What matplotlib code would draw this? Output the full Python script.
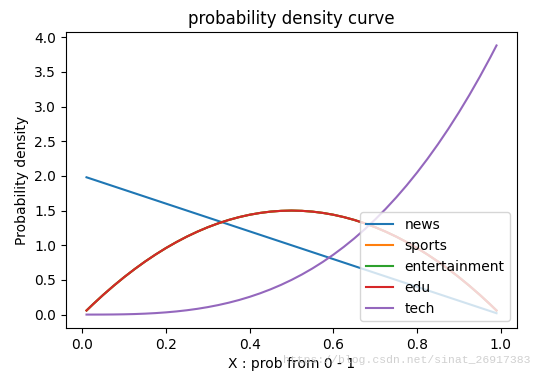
import matplotlib
matplotlib.use('Agg')
import matplotlib.pyplot as plt

# x positions
x = [0.01, 0.025, 0.05, 0.075, 0.10, 0.125, 0.15, 0.175, 0.20, 0.225, 0.25,
     0.275, 0.30, 0.325, 0.35, 0.375, 0.40, 0.425, 0.45, 0.475, 0.50,
     0.525, 0.55, 0.575, 0.60, 0.625, 0.65, 0.675, 0.70, 0.725, 0.75,
     0.775, 0.80, 0.825, 0.85, 0.875, 0.90, 0.925, 0.95, 0.975, 0.99]

news = [1.98, 1.95, 1.90, 1.85, 1.80, 1.75, 1.70, 1.65, 1.60, 1.55, 1.50,
        1.45, 1.40, 1.35, 1.30, 1.25, 1.20, 1.15, 1.10, 1.05, 1.00,
        0.95, 0.90, 0.85, 0.80, 0.75, 0.70, 0.65, 0.60, 0.55, 0.50,
        0.45, 0.40, 0.35, 0.30, 0.25, 0.20, 0.15, 0.10, 0.05, 0.02]
mid = [0.059, 0.146, 0.285, 0.416, 0.54, 0.656, 0.765, 0.866, 0.96, 1.046, 1.125,
       1.196, 1.26, 1.316, 1.365, 1.406, 1.44, 1.466, 1.485, 1.496, 1.50,
       1.496, 1.485, 1.466, 1.44, 1.406, 1.365, 1.316, 1.26, 1.196, 1.125,
       1.046, 0.96, 0.866, 0.765, 0.656, 0.54, 0.416, 0.285, 0.146, 0.059]
sports = mid
entertainment = mid
edu = mid
tech = [0.0, 0.0001, 0.0005, 0.0017, 0.004, 0.0078, 0.0135, 0.0214, 0.032, 0.0456, 0.0625,
        0.0832, 0.108, 0.1373, 0.1715, 0.2109, 0.256, 0.3071, 0.3645, 0.4287, 0.50,
        0.5788, 0.6655, 0.7604, 0.864, 0.9766, 1.0985, 1.2302, 1.372, 1.5243, 1.6875,
        1.8619, 2.048, 2.2461, 2.4565, 2.6797, 2.916, 3.1658, 3.4295, 3.7074, 3.8812]

labels = ['news', 'sports', 'entertainment', 'edu', 'tech']
series = [news, sports, entertainment, edu, tech]

fig = plt.figure(figsize=(5.38, 3.81), dpi=100)
ax = fig.add_axes([0.1227, 0.139, 0.8383, 0.777])

for lab, y in zip(labels, series):
    ax.plot(x, y, label=lab)

ax.set_title('probability density curve')
ax.set_xlabel('X : prob from 0 - 1')
ax.set_ylabel('Probability density')
ax.legend(loc='lower right')

# watermark
fig.text(0.526, 0.056, 'https://blog.csdn.net/sinat_26917383', family='Liberation Mono',
         fontsize=8.2, color='#c8c8c8', ha='left', va='center', alpha=0.85)

fig.savefig('out.png', dpi=100)
